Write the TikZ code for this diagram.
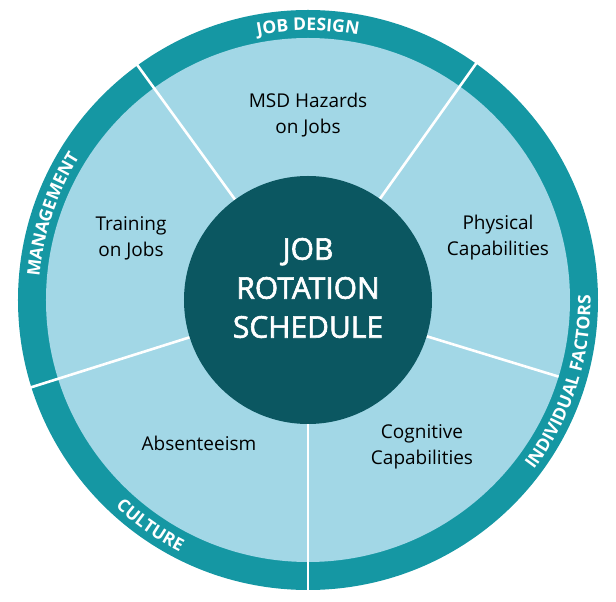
\documentclass[tikz,border=0pt]{standalone}
\usepackage{fontspec}
\setmainfont{Open Sans}
\newfontfamily\semib[FakeBold=2]{Open Sans}
\usetikzlibrary{decorations.text}
\definecolor{ringc}{HTML}{1597A3}
\definecolor{lightc}{HTML}{A2D7E6}
\definecolor{darkc}{HTML}{0B5761}
\tikzset{
  x=1pt,y=1pt,
  sep/.style={white,line width=2.6pt},
  lbl/.style={align=center,font=\fontsize{19}{26}\selectfont,text=black},
  ringtext/.style={decorate,decoration={text along path,text align=center,
    text={|\fontsize{17.5}{20}\bfseries\color{white}|#1}}}
}
\begin{document}
\begin{tikzpicture}
\useasboundingbox (-308,-302) rectangle (308,300);
\fill[ringc] (0,0) circle (290);
\fill[lightc] (0,0) circle (262);
\coordinate (c) at (0,0);
\foreach \a/\r in {126/291,54.6/291,197.5/291,270/291,-17/262}{
  \draw[sep] (\a:124) -- (\a:\r);
}
\node[circle,fill=darkc,minimum size=248,inner sep=0] (hub) at (c) {};
\node[align=center,text=white,font=\semib\fontsize{30}{39}\selectfont] (title) at (0,12) {JOB\\ROTATION\\SCHEDULE};
\node[lbl] (msd) at (0,185) {MSD Hazards\\on Jobs};
\node[lbl] (phys) at (190,62) {Physical\\Capabilities};
\node[lbl] (train) at (-177,62) {Training\\on Jobs};
\node[lbl] (cog) at (114,-147) {Cognitive\\Capabilities};
\node[lbl] (abs) at (-109,-143) {Absenteeism};
\path[ringtext={JOB DESIGN}] (120:269.5) arc[start angle=120,end angle=60,radius=269.5];
\path[ringtext={MANAGEMENT}] (194:269.5) arc[start angle=194,end angle=129,radius=269.5];
\path[ringtext={CULTURE}] (210:282.5) arc[start angle=210,end angle=260,radius=282.5];
\path[ringtext={INDIVIDUAL FACTORS}] (-56:282.5) arc[start angle=-56,end angle=20,radius=282.5];
\end{tikzpicture}
\end{document}
